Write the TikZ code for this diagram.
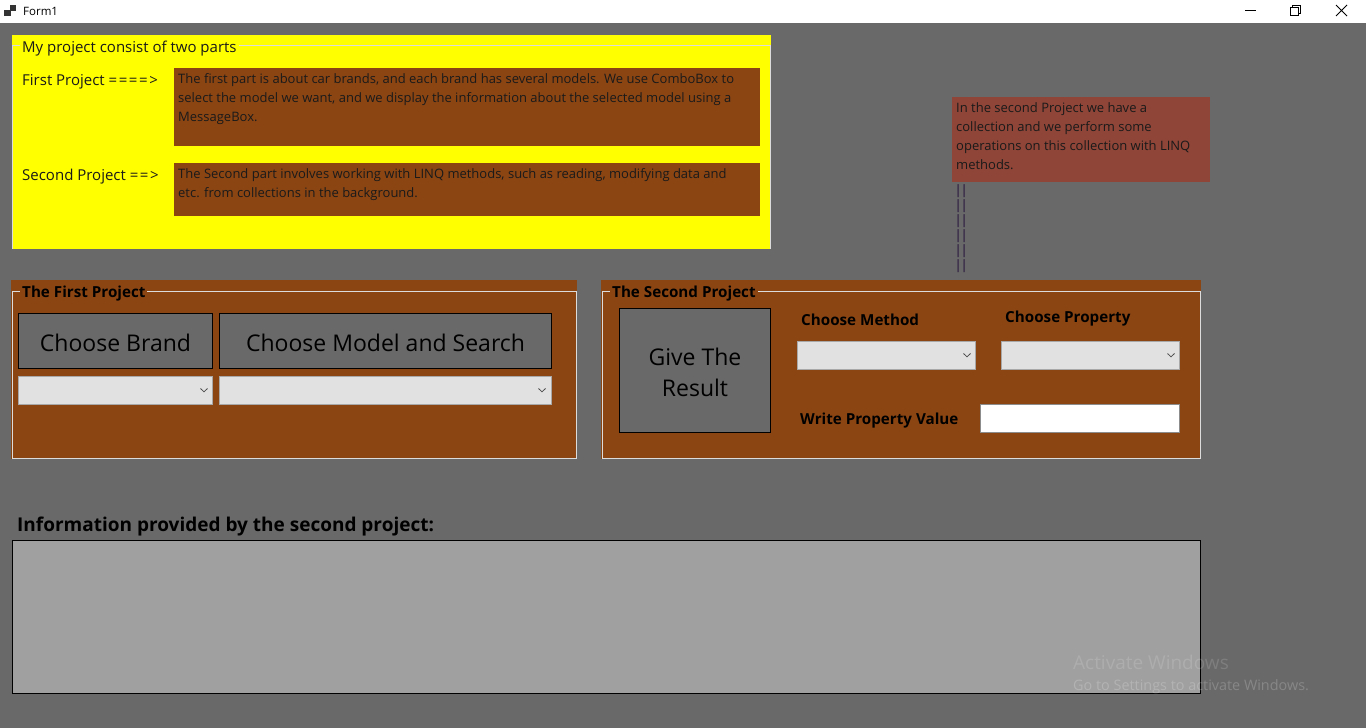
\documentclass[tikz,border=0pt]{standalone}
\usepackage{fontspec}
\setmainfont{Open Sans}
\definecolor{bg}{HTML}{696969}
\definecolor{saddle}{HTML}{8B4513}
\definecolor{yel}{HTML}{FFFF00}
\definecolor{note}{HTML}{8F4538}
\definecolor{combo}{HTML}{E1E1E1}
\definecolor{comboborder}{HTML}{A8A8A8}
\definecolor{bigbox}{HTML}{A0A0A0}
\definecolor{bars}{HTML}{1E0A35}
\definecolor{gbline}{HTML}{DCDCDC}
\definecolor{ink}{HTML}{1A1A1A}
\tikzset{
  txt/.style={anchor=base west, inner sep=0pt, align=left, text=ink},
  body/.style={txt, font=\fontsize{13}{19}\selectfont},
  mid/.style={txt, font=\fontsize{15}{19}\selectfont},
  gtitle/.style={txt, font=\fontsize{15.2}{16}\selectfont\bfseries, text=black},
  lbl/.style={txt, font=\fontsize{15.2}{16}\selectfont\bfseries, text=black},
  btn/.style={draw=black, fill=bg, line width=1pt},
  btntext/.style={anchor=base, inner sep=0pt, font=\fontsize{23}{31}\selectfont, text=black},
  cmb/.style={draw=comboborder, fill=combo, line width=1pt},
  chev/.style={draw=black!70, line width=0.8pt},
  gbox/.style={draw=gbline, line width=1pt},
}
\newcommand{\chevron}[2]{\draw[chev] (#1-3.5,#2-1.5) -- (#1,#2+1.8) -- (#1+3.5,#2-1.5);}
\newcommand{\eq}{=\kern1.6pt}
\begin{document}
\begin{tikzpicture}[x=1pt,y=-1pt]
\useasboundingbox (0,0) rectangle (1366,728);
% window
\fill[white] (0,0) rectangle (1366,23);
\fill[bg] (0,23) rectangle (1366,728);
% title bar
\fill[black!80] (9.5,5) rectangle (16,11);
\fill[black!80] (4,9.5) rectangle (10.5,16);
\node[txt, font=\fontsize{11.5}{14}\selectfont, text=black] (form) at (23,15.5) {Form1};
\draw[black, line width=0.8pt] (1245,10.5) -- (1256,10.5);
\draw[black, line width=0.8pt] (1290.5,7.5) rectangle (1298.5,15.5);
\draw[black, line width=0.8pt] (1292.5,7.5) -- (1292.5,5.5) -- (1300.5,5.5) -- (1300.5,13.5) -- (1298.5,13.5);
\draw[black, line width=0.8pt] (1336,5) -- (1347,16) (1347,5) -- (1336,16);

% yellow group
\fill[yel] (12,35) rectangle (771,249);
\draw[gbox] (12.5,249) -- (12.5,45.5) -- (770,45.5) -- (770,249);
\node[mid, fill=yel, inner xsep=2pt, inner ysep=1pt] (ytitle) at (20,52) {My project consist of two parts};
\node[mid] (fp) at (22,85) {First Project \eq\eq\eq\eq>};
\fill[saddle] (174,68) rectangle (760,146);
\node[body] (fptext) at (178,121) {The first part is about car brands, and each brand has several models. We use ComboBox to\\select the model we want, and we display the information about the selected model using a\\MessageBox.};
\node[mid] (sp) at (22,180) {Second Project \eq\eq>};
\fill[saddle] (174,163) rectangle (760,216);
\node[body] (sptext) at (178,197) {The Second part involves working with LINQ methods, such as reading, modifying data and\\etc. from collections in the background.};

% note
\fill[note] (952,97) rectangle (1210,182);
\node[body] (notetext) at (956,169) {In the second Project we have a\\collection and we perform some\\operations on this collection with LINQ\\methods.};
\node[txt, font=\fontsize{13}{15}\selectfont, text=bars] (bars) at (954.5,269) {|\kern-1.2pt|\\|\kern-1.2pt|\\|\kern-1.2pt|\\|\kern-1.2pt|\\|\kern-1.2pt|\\|\kern-1.2pt|};

% first project group
\fill[saddle] (11,280) rectangle (577,459);
\draw[gbox] (12.5,291.5) rectangle (576.5,458.5);
\node[gtitle, fill=saddle, inner xsep=2pt, inner ysep=1pt] (g1) at (20,297) {The First Project};
\draw[btn] (18.5,313.5) rectangle (212.5,368.5);
\node[btntext] (cb) at (115.5,351) {Choose Brand};
\draw[btn] (219.5,313.5) rectangle (551.5,368.5);
\node[btntext] (cm) at (385.5,351) {Choose Model and Search};
\draw[cmb] (18.5,376.5) rectangle (212.5,404.5);
\chevron{204}{390}
\draw[cmb] (219.5,376.5) rectangle (551.5,404.5);
\chevron{542}{390}

% second project group
\fill[saddle] (601,280) rectangle (1201,459);
\draw[gbox] (602.5,291.5) rectangle (1200.5,458.5);
\node[gtitle, fill=saddle, inner xsep=2pt, inner ysep=1pt] (g2) at (610,297) {The Second Project};
\draw[btn] (619.5,308.5) rectangle (770.5,432.5);
\node[btntext] (gr1) at (695,365) {Give The};
\node[btntext] (gr2) at (695,396) {Result};
\node[lbl] (cmeth) at (801,325) {Choose Method};
\node[lbl] (cprop) at (1005,322) {Choose Property};
\draw[cmb] (797.5,341.5) rectangle (975.5,369.5);
\chevron{967}{355}
\draw[cmb] (1001.5,341.5) rectangle (1179.5,369.5);
\chevron{1171}{355}
\node[lbl] (wpv) at (800,424) {Write Property Value};
\draw[draw=black!45, fill=white, line width=1pt] (980.5,404.5) rectangle (1179.5,432.5);

% info
\node[txt, font=\fontsize{19}{22}\selectfont\bfseries, text=black] (info) at (17,531) {Information provided by the second project:};
\draw[fill=bigbox, draw=black, line width=1pt] (12.5,540.5) rectangle (1200.5,693.5);

% watermark
\node[txt, font=\fontsize{19}{22}\selectfont, text=white, text opacity=0.14] (wm1) at (1073,669) {Activate Windows};
\node[txt, font=\fontsize{14.4}{16}\selectfont, text=white, text opacity=0.2] (wm2) at (1073,690) {Go to Settings to activate Windows.};
\end{tikzpicture}
\end{document}
